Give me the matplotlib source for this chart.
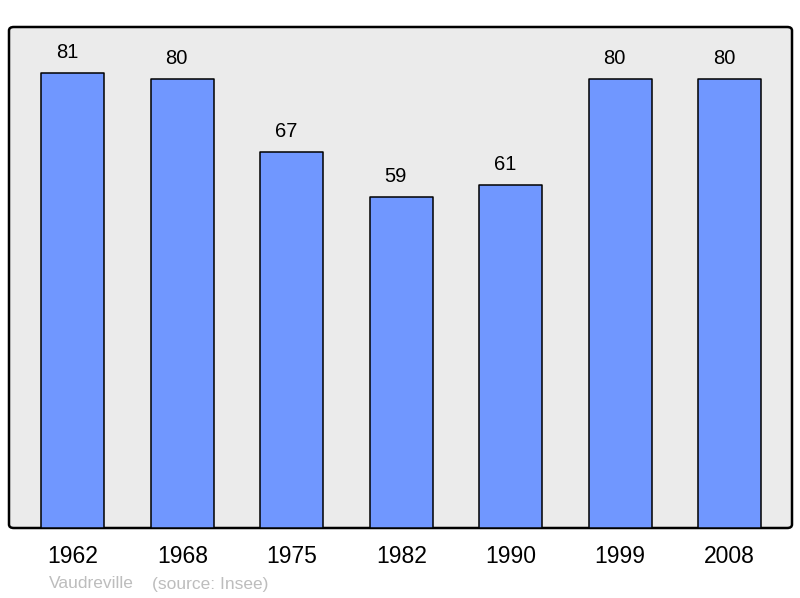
import matplotlib.pyplot as plt
from matplotlib.patches import FancyBboxPatch

years = ["1962", "1968", "1975", "1982", "1990", "1999", "2008"]
population = [81, 80, 67, 59, 61, 80, 80]

plt.rcParams['font.family'] = ['Liberation Sans', 'DejaVu Sans']

fig = plt.figure(figsize=(8, 5.98), dpi=100)
W, H = 800, 598
# axes box in pixels: x 9..792, y 27..528
ax = fig.add_axes([9 / W, 1 - 528 / H, (792 - 9) / W, (528 - 27) / H])
ax.set_facecolor('none')
for s in ax.spines.values():
    s.set_visible(False)

bg = FancyBboxPatch((9 / W, 1 - 528 / H), (792 - 9) / W, (528 - 27) / H,
                    boxstyle="round,pad=0,rounding_size=0.006",
                    transform=fig.transFigure, facecolor='#ebebeb',
                    edgecolor='black', linewidth=1.8, zorder=0, clip_on=False)
ax.add_patch(bg)

x = list(range(len(years)))
ax.bar(x, population, width=0.575, color='#7097ff', edgecolor='black',
       linewidth=1.1, joinstyle='round', zorder=2)
for xi, v in zip(x, population):
    ax.annotate(str(v), (xi, v), xytext=(-4, 8), textcoords='offset points',
                ha='center', va='bottom', fontsize=14.5)

ax.set_xlim(-0.584, 6.571)
ax.set_ylim(0, 89.2)
ax.set_xticks(x)
ax.set_xticklabels(years, fontsize=16.5)
ax.tick_params(axis='x', length=0, pad=12)
ax.set_yticks([])

fig.text(49 / W, 1 - 584 / H, "Vaudreville", fontsize=12.5, color='#bdbdbd', va='center')
fig.text(152 / W, 1 - 584 / H, "(source: Insee)", fontsize=12.5, color='#bdbdbd', va='center')

fig.savefig('out.png', dpi=100)
